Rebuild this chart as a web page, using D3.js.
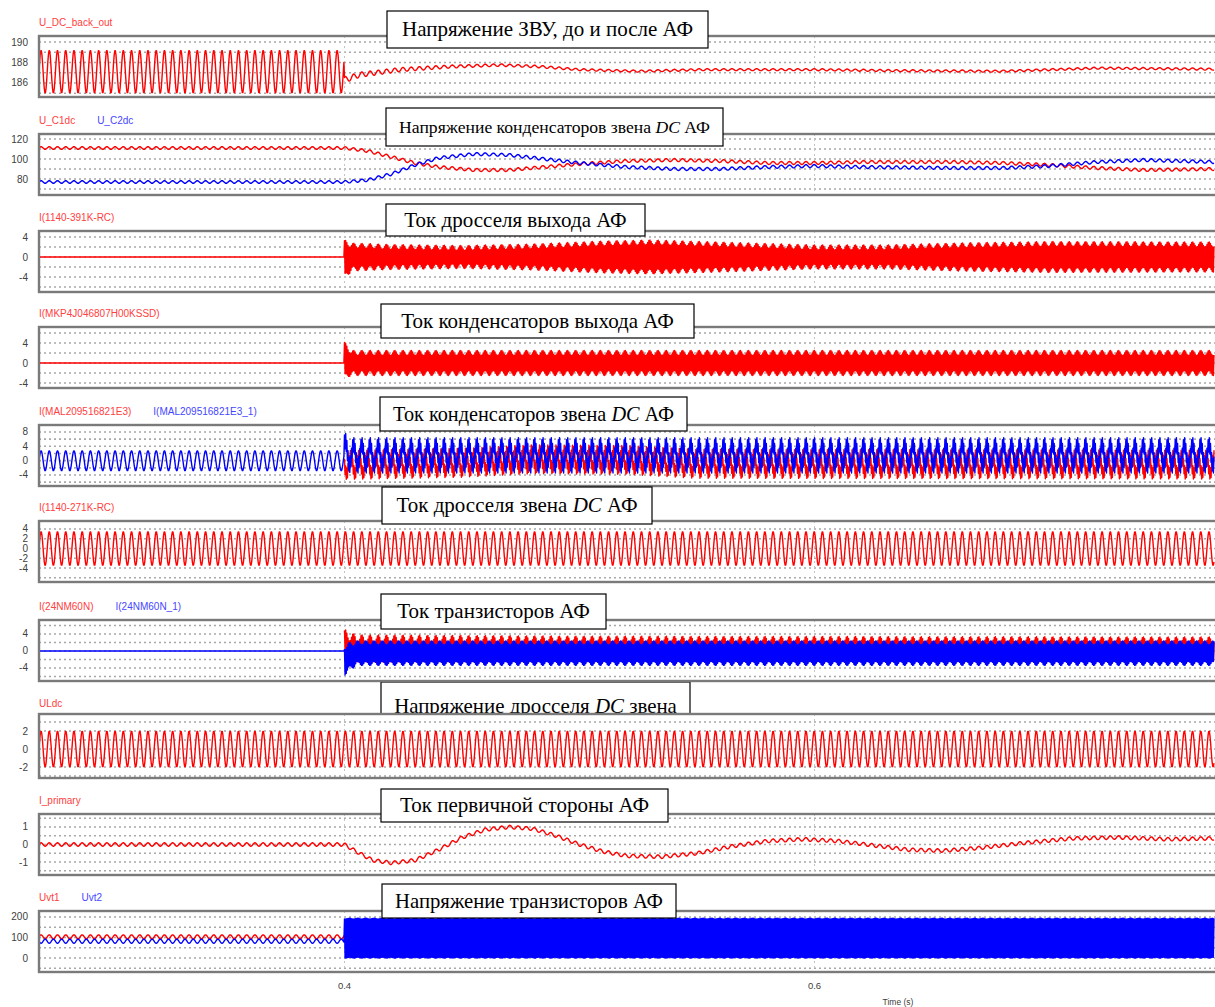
<!DOCTYPE html>
<html>
<head>
<meta charset="utf-8">
<script src="https://cdn.jsdelivr.net/npm/d3@7"></script>
<style>
  body { margin: 0; background: #fff; }
  svg { display: block; }
</style>
</head>
<body>
<svg id="chart" width="1215" height="1007"></svg>
<script>
// ---- time axis ----
const timeDomain = [0.27, 0.77];
const timeTicks = [0.4, 0.6];
const PERIOD = 0.0035;   // ripple period seen in every trace
const STEP = 0.00025;    // sample step; the band term flips sign each step

// keys: [time, centre, ripple amplitude, switching band half-width]
const uDcBackOut = [
  [0.27, 187.1, 2.1, 0], [0.3999, 187.1, 2.1, 0],
  [0.4, 186.3, 0.3, 0], [0.4064, 186.8, 0.25, 0], [0.4234, 187.3, 0.2, 0],
  [0.4447, 187.6, 0.15, 0], [0.466, 187.75, 0.12, 0], [0.483, 187.6, 0.12, 0],
  [0.5, 187.3, 0.1, 0], [0.5255, 187.15, 0.1, 0], [0.551, 187.3, 0.1, 0],
  [0.6, 187.3, 0.1, 0], [0.636, 187.2, 0.1, 0], [0.679, 187.15, 0.1, 0],
  [0.721, 187.45, 0.1, 0], [0.77, 187.35, 0.1, 0]
];
const uC1dc = [
  [0.27, 111, 1.3, 0], [0.4, 111, 1.3, 0], [0.41, 108, 1.5, 0], [0.42, 102, 1.5, 0],
  [0.43, 96, 1.5, 0], [0.44, 92, 1.5, 0], [0.455, 89, 1.5, 0], [0.47, 89, 1.5, 0],
  [0.485, 92, 1.5, 0], [0.5, 95, 1.5, 0], [0.52, 98, 1.5, 0], [0.54, 99, 1.5, 0],
  [0.56, 98, 1.5, 0], [0.58, 96, 1.5, 0], [0.6, 96, 1.5, 0], [0.62, 97, 1.5, 0],
  [0.66, 97, 1.5, 0], [0.68, 96, 1.5, 0], [0.7, 94, 1.5, 0], [0.72, 91, 1.5, 0],
  [0.74, 89, 1.5, 0], [0.77, 90, 1.5, 0]
];
const uC2dc = [
  [0.27, 77, 1.3, 0], [0.4, 77, 1.3, 0], [0.41, 79, 1.5, 0], [0.42, 85, 1.5, 0],
  [0.43, 94, 1.5, 0], [0.44, 101, 1.5, 0], [0.455, 105, 1.5, 0], [0.47, 104, 1.5, 0],
  [0.485, 100, 1.5, 0], [0.5, 96, 1.5, 0], [0.52, 92, 1.5, 0], [0.54, 90, 1.5, 0],
  [0.56, 90, 1.5, 0], [0.58, 92, 1.5, 0], [0.6, 93, 1.5, 0], [0.62, 92, 1.5, 0],
  [0.66, 91, 1.5, 0], [0.68, 91, 1.5, 0], [0.7, 93, 1.5, 0], [0.72, 97, 1.5, 0],
  [0.74, 99, 1.5, 0], [0.77, 97, 1.5, 0]
];
const iChokeOut = [
  [0.27, 0, 0, 0], [0.3999, 0, 0, 0],
  [0.4, -0.6, 0.6, 3.4], [0.403, 0, 0.5, 2.3], [0.42, 0, 0.5, 2.0], [0.45, 0, 0.5, 1.8],
  [0.48, 0, 0.5, 2.1], [0.51, 0, 0.5, 2.7], [0.53, 0, 0.5, 2.9], [0.56, 0, 0.5, 2.5],
  [0.6, 0, 0.5, 1.9], [0.63, 0, 0.5, 1.9], [0.66, 0, 0.5, 2.3], [0.7, 0, 0.5, 2.6],
  [0.77, 0, 0.5, 2.5]
];
const iCapOut = [
  [0.27, 0, 0, 0], [0.3999, 0, 0, 0],
  [0.4, 0.5, 0.5, 3.2], [0.403, 0, 0.5, 2.0], [0.77, 0, 0.5, 2.0]
];
const iCapDc1 = [
  [0.4, -1.2, 2.5, 1.6], [0.45, -0.6, 2.5, 1.6], [0.48, 0.4, 2.5, 1.6],
  [0.52, 0.2, 2.5, 1.6], [0.55, -0.9, 2.5, 1.6], [0.77, -1.1, 2.5, 1.6]
];
const iCapDc2 = [
  [0.27, 0, 2.8, 0], [0.3999, 0, 2.8, 0],
  [0.4, 2.5, 3.2, 2.2], [0.403, 1.5, 3.0, 2.0], [0.77, 1.5, 3.0, 2.0]
];
const iChokeDc = [[0.27, 0, 3.5, 0], [0.77, 0, 3.5, 0]];
const iTrans1 = [
  [0.4, 1.5, 1.2, 2.4], [0.405, 0.6, 1.0, 2.2], [0.5, 0.5, 0.9, 2.1], [0.77, 0.4, 0.8, 2.1]
];
const iTrans2 = [
  [0.27, 0, 0, 0], [0.3999, 0, 0, 0],
  [0.4, -2, 0.8, 3.0], [0.405, -0.5, 0.5, 2.4], [0.77, -0.5, 0.5, 2.4]
];
const uLdc = [[0.27, 0, 2.0, 0], [0.77, 0, 2.0, 0]];
const iPrimary = [
  [0.27, 0, 0.1, 0], [0.4, 0, 0.1, 0], [0.405, -0.4, 0.1, 0], [0.412, -0.9, 0.1, 0],
  [0.42, -1.05, 0.1, 0], [0.43, -0.9, 0.1, 0], [0.44, -0.3, 0.1, 0], [0.45, 0.4, 0.1, 0],
  [0.46, 0.85, 0.1, 0], [0.47, 1.0, 0.1, 0], [0.48, 0.9, 0.1, 0], [0.49, 0.5, 0.1, 0],
  [0.5, 0.0, 0.1, 0], [0.51, -0.4, 0.1, 0], [0.52, -0.65, 0.1, 0], [0.535, -0.7, 0.1, 0],
  [0.55, -0.5, 0.1, 0], [0.565, -0.1, 0.1, 0], [0.58, 0.2, 0.1, 0], [0.595, 0.3, 0.1, 0],
  [0.61, 0.2, 0.1, 0], [0.625, -0.05, 0.1, 0], [0.64, -0.3, 0.1, 0], [0.655, -0.35, 0.1, 0],
  [0.67, -0.2, 0.1, 0], [0.69, 0.1, 0.1, 0], [0.71, 0.35, 0.1, 0], [0.73, 0.4, 0.1, 0],
  [0.75, 0.3, 0.1, 0], [0.77, 0.35, 0.1, 0]
];
const uVt1 = [[0.27, 103, 10, 0], [0.3999, 103, 10, 0]];
const uVt2 = [[0.27, 82, 10, 0], [0.3999, 82, 10, 0], [0.4, 97, 2, 95], [0.77, 97, 2, 95]];

// ---- panel texts and axes ----
const seriesLabels = [
  [["U_DC_back_out", "red"]],
  [["U_C1dc", "red"], ["U_C2dc", "blue"]],
  [["I(1140-391K-RC)", "red"]],
  [["I(MKP4J046807H00KSSD)", "red"]],
  [["I(MAL209516821E3)", "red"], ["I(MAL209516821E3_1)", "blue"]],
  [["I(1140-271K-RC)", "red"]],
  [["I(24NM60N)", "red"], ["I(24NM60N_1)", "blue"]],
  [["ULdc", "red"]],
  [["I_primary", "red"]],
  [["Uvt1", "red"], ["Uvt2", "blue"]]
];
const yDomains = [
  [184.63, 190.59], [64, 125], [-7, 5.2], [-5, 7.2], [-7.07, 9.95],
  [-6.87, 5.64], [-7.06, 7.29], [-3.22, 3.89], [-1.74, 1.74], [-68, 229]
];
const gridValues = [
  [185, 186, 187, 188, 189, 190], [70, 80, 90, 100, 110, 120], [-6, -4, -2, 0, 2, 4],
  [-4, -2, 0, 2, 4, 6], [-6, -4, -2, 0, 2, 4, 6, 8], [-6, -4, -2, 0, 2, 4],
  [-6, -4, -2, 0, 2, 4, 6], [-3, -2, -1, 0, 1, 2, 3], [-1.5, -1, -0.5, 0, 0.5, 1, 1.5],
  [-50, 0, 50, 100, 150, 200]
];
const tickLabels = [
  [190, 188, 186], [120, 100, 80], [4, 0, -4], [4, 0, -4], [8, 4, 0, -4],
  [4, 2, 0, -2, -4], [4, 0, -4], [2, 0, -2], [1, 0, -1], [200, 100, 0]
];
const panelSeries = [
  [[uDcBackOut, "red", 0]],
  [[uC1dc, "red", 0], [uC2dc, "blue", 0]],
  [[iChokeOut, "red", 0]],
  [[iCapOut, "red", 0]],
  [[iCapDc1, "red", Math.PI * 0.7], [iCapDc2, "blue", 0]],
  [[iChokeDc, "red", 0]],
  [[iTrans1, "red", 0], [iTrans2, "blue", Math.PI]],
  [[uLdc, "red", 0]],
  [[iPrimary, "red", 0]],
  [[uVt1, "red", 0], [uVt2, "blue", Math.PI]]
];
const boxTitles = [
  "Напряжение ЗВУ, до и после АФ",
  "Напряжение конденсаторов звена *DC* АФ",
  "Ток дросселя выхода АФ",
  "Ток конденсаторов выхода АФ",
  "Ток конденсаторов звена *DC* АФ",
  "Ток дросселя звена *DC* АФ",
  "Ток транзисторов АФ",
  "Напряжение дросселя *DC* звена",
  "Ток первичной стороны АФ",
  "Напряжение транзисторов АФ"
];

// ---- layout ----
const panelTops = [36, 134, 231, 327, 425, 521, 620, 714, 814, 911];
const panelHeights = [61, 61, 61, 61, 61, 61, 61, 64, 61, 61];
const boxRects = [
  [387, 11, 708, 48], [386, 108, 723, 146], [386, 204, 645, 236], [381, 304, 694, 338],
  [380, 397, 687, 431], [382, 487, 652, 524], [381, 594, 606, 629], [381, 682, 690, 730],
  [381, 789, 668, 822], [382, 884, 676, 918]
];
const colors = { red: "#ff0000", blue: "#0000ff" };
const labelColors = { red: "#ff4040", blue: "#4646ff" };

const svg = d3.select("#chart");
const x = d3.scaleLinear().domain(timeDomain).range([39, 1214]);
const plotRight = 1222;

function sampleSeries(keys, phase) {
  const ts = keys.map(k => k[0]);
  const cen = d3.scaleLinear().domain(ts).range(keys.map(k => k[1])).clamp(true);
  const amp = d3.scaleLinear().domain(ts).range(keys.map(k => k[2])).clamp(true);
  const band = d3.scaleLinear().domain(ts).range(keys.map(k => k[3])).clamp(true);
  const t0 = ts[0], t1 = ts[ts.length - 1];
  const pts = [];
  const n = Math.round((t1 - t0) / STEP);
  for (let i = 0; i <= n; i++) {
    const t = t0 + i * STEP;
    const z = i % 2 === 0 ? 1 : -1;
    const v = cen(t) + amp(t) * Math.sin(2 * Math.PI * (t - timeDomain[0]) / PERIOD + phase) + band(t) * z;
    pts.push([t, v]);
  }
  return pts;
}

function drawBox(i) {
  const [x0, y0, x1, y1] = boxRects[i];
  const g = svg.append("g");
  g.append("rect")
    .attr("x", x0).attr("y", y0).attr("width", x1 - x0).attr("height", y1 - y0)
    .attr("fill", "#fff").attr("stroke", "#000").attr("stroke-width", 1.2);
  const txt = g.append("text")
    .attr("x", (x0 + x1) / 2)
    .attr("text-anchor", "middle")
    .attr("font-family", "'Liberation Serif', 'Times New Roman', serif")
    .attr("font-size", 20).attr("fill", "#000");
  boxTitles[i].split("*").forEach((part, j) => {
    if (!part) return;
    txt.append("tspan").attr("font-style", j % 2 ? "italic" : "normal").text(part);
  });
  // fit the caption to the box width, the way the pasted captions look
  const w = txt.node().getComputedTextLength();
  const fs = Math.min(21, 20 * (x1 - x0 - 26) / w);
  txt.attr("font-size", fs).attr("y", (y0 + y1) / 2 + fs * 0.33);
}

// box 8 sits behind its panel (its lower edge is hidden by the plot)
drawBox(7);

panelTops.forEach((top, p) => {
  const h = panelHeights[p];
  const y = d3.scaleLinear().domain(yDomains[p]).range([top + h, top]);
  const g = svg.append("g");

  // series names above the panel
  let lx = 39;
  seriesLabels[p].forEach(([name, col]) => {
    const t = g.append("text")
      .attr("x", lx).attr("y", p === 7 ? top - 7 : top - 10)
      .attr("font-family", "'Liberation Sans', Arial, sans-serif")
      .attr("font-size", 10).attr("fill", labelColors[col])
      .text(name);
    lx += t.node().getComputedTextLength() + 22;
  });

  g.append("rect")
    .attr("x", x.range()[0]).attr("y", top)
    .attr("width", plotRight - x.range()[0]).attr("height", h)
    .attr("fill", "#fff");

  g.append("clipPath").attr("id", "clip" + p)
    .append("rect")
    .attr("x", x.range()[0] + 1).attr("y", top + 1)
    .attr("width", plotRight - x.range()[0]).attr("height", h - 2);

  // dotted grid
  g.selectAll(".hgrid").data(gridValues[p]).join("line")
    .attr("x1", x.range()[0]).attr("x2", plotRight)
    .attr("y1", d => y(d)).attr("y2", d => y(d))
    .attr("stroke", "#a8a8a8").attr("stroke-width", 1.6)
    .attr("stroke-dasharray", "2,3");
  g.selectAll(".vgrid").data(timeTicks).join("line")
    .attr("x1", d => x(d)).attr("x2", d => x(d))
    .attr("y1", top).attr("y2", top + h)
    .attr("stroke", "#c4c4c4").attr("stroke-width", 1)
    .attr("stroke-dasharray", "2,3");

  // traces
  const line = d3.line().x(d => x(d[0])).y(d => y(d[1]));
  const traces = g.append("g").attr("clip-path", `url(#clip${p})`);
  panelSeries[p].forEach(([keys, col, phase]) => {
    traces.append("path")
      .attr("d", line(sampleSeries(keys, phase)))
      .attr("fill", "none").attr("stroke", colors[col])
      .attr("stroke-width", 1.4).attr("stroke-linejoin", "round");
  });

  // frame
  g.append("rect")
    .attr("x", x.range()[0]).attr("y", top)
    .attr("width", plotRight - x.range()[0]).attr("height", h)
    .attr("fill", "none").attr("stroke", "#7a7a7a").attr("stroke-width", 2.4);

  // y tick labels
  g.selectAll(".tick").data(tickLabels[p]).join("text")
    .attr("x", 28).attr("y", d => y(d) + 3.5)
    .attr("text-anchor", "end")
    .attr("font-family", "'Liberation Sans', Arial, sans-serif")
    .attr("font-size", 10).attr("fill", "#404040")
    .text(d => d);
});

// time axis labels
svg.selectAll(".xtick").data(timeTicks).join("text")
  .attr("x", d => x(d)).attr("y", 989)
  .attr("text-anchor", "middle")
  .attr("font-family", "'Liberation Sans', Arial, sans-serif")
  .attr("font-size", 9.5).attr("fill", "#404040")
  .text(d => d);
svg.append("text")
  .attr("x", 898).attr("y", 1005)
  .attr("text-anchor", "middle")
  .attr("font-family", "'Liberation Sans', Arial, sans-serif")
  .attr("font-size", 8.5).attr("fill", "#404040")
  .text("Time (s)");

// annotation boxes on top of the panels
boxTitles.forEach((t, i) => { if (i !== 7) drawBox(i); });
</script>
</body>
</html>
